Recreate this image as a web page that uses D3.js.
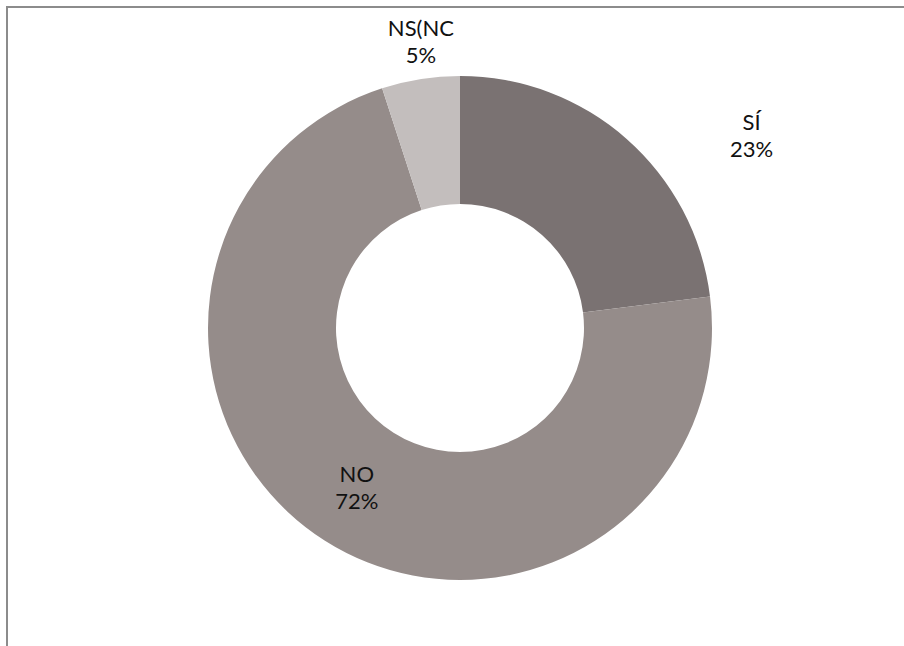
<!DOCTYPE html>
<html><head><meta charset="utf-8">
<script src="https://cdn.jsdelivr.net/npm/d3@7"></script>
<style>body{margin:0;background:#fff}svg{display:block}</style>
</head><body>
<script>
const categories = ["SÍ", "NO", "NS(NC"];
const values = [23, 72, 5];
const labels = ["23%", "72%", "5%"];
const colors = ["#7a7272", "#958c8a", "#c3bebd"];

const W = 904, H = 646;
const svg = d3.select("body").append("svg").attr("width", W).attr("height", H);

// frame (top and left lines)
svg.append("line").attr("x1", 6).attr("x2", W).attr("y1", 7).attr("y2", 7).attr("stroke", "#8c8c8c").attr("stroke-width", 2);
svg.append("line").attr("x1", 7).attr("x2", 7).attr("y1", 6).attr("y2", H).attr("stroke", "#8c8c8c").attr("stroke-width", 2);

const cx = 460, cy = 328, R = 252, r = 124;
const pie = d3.pie().sort(null).value(d => d)(values);
const arc = d3.arc().innerRadius(r).outerRadius(R);
const g = svg.append("g").attr("transform", `translate(${cx},${cy})`);
g.selectAll("path").data(pie).join("path")
  .attr("d", arc).attr("fill", (d, i) => colors[i]);

// label placement: radius and angle shift (degrees) from the slice's mid-angle
const labelRadius = [345, 197, 281];
const labelShift = [16.3, -0.8, 1];
pie.forEach((d, i) => {
  const a = (d.startAngle + d.endAngle) / 2 + labelShift[i] * Math.PI / 180;
  const x = Math.sin(a) * labelRadius[i];
  const y = -Math.cos(a) * labelRadius[i];
  const t = g.append("text").attr("text-anchor", "middle")
    .attr("font-family", "Lato, 'Open Sans', sans-serif").attr("font-size", 22).attr("fill", "#111");
  t.append("tspan").attr("x", x).attr("y", y - 13.5).text(categories[i]);
  t.append("tspan").attr("x", x).attr("y", y + 13.5).text(labels[i]);
});
</script>
</body></html>
